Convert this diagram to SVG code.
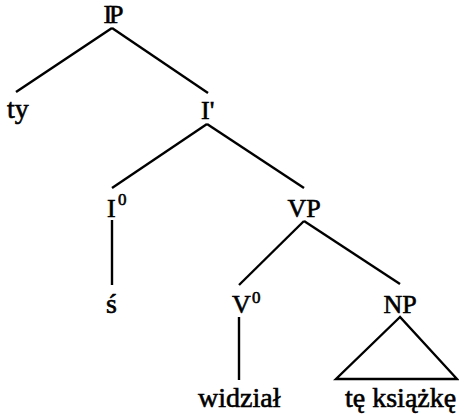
<svg xmlns="http://www.w3.org/2000/svg" width="459" height="417" viewBox="0 0 459 417">
  <style>
    text { font-family: "Liberation Serif", "Times New Roman", serif; fill: #000; stroke: #000; stroke-width: 0.6; }
    .cat { font-size: 26px; }
    .leaf { font-size: 28px; }
    .sup { font-size: 17px; }
    .edge { stroke: #000; stroke-width: 2.4; fill: none; stroke-linecap: butt; }
  </style>
  <rect width="459" height="417" fill="#fff"/>

  <!-- branches of the tree -->
  <g id="connectors">
    <line class="edge" x1="112" y1="28" x2="16" y2="92"/>
    <line class="edge" x1="112" y1="28" x2="208" y2="93"/>
    <line class="edge" x1="207" y1="124" x2="112" y2="188"/>
    <line class="edge" x1="207" y1="124" x2="304" y2="188"/>
    <line class="edge" x1="112" y1="220" x2="112" y2="285"/>
    <line class="edge" x1="304" y1="221" x2="239" y2="285"/>
    <line class="edge" x1="304" y1="221" x2="400" y2="284"/>
    <line class="edge" x1="239" y1="317" x2="239" y2="380"/>
    <polygon class="edge" points="400,317 336,379 457,379" stroke-linejoin="miter"/>
  </g>

  <g id="IP"><text class="cat" x="112" y="23" text-anchor="middle" letter-spacing="-3">IP</text></g>
  <g id="ty"><text class="leaf" x="7" y="118">ty</text></g>
  <g id="Ibar"><text class="cat" x="201" y="119">I'</text></g>
  <g id="I0"><text class="cat" x="107" y="217">I</text><text class="sup" x="118" y="205">0</text></g>
  <g id="s"><text class="leaf" x="106" y="313">ś</text></g>
  <g id="VP"><text class="cat" x="304" y="217" text-anchor="middle">VP</text></g>
  <g id="V0"><text class="cat" x="232" y="313">V</text><text class="sup" x="252" y="303">0</text></g>
  <g id="widzial"><text class="leaf" x="198" y="407">widział</text></g>
  <g id="NP"><text class="cat" x="400" y="313" text-anchor="middle">NP</text></g>
  <g id="te-ksiazke"><text class="leaf" x="345" y="407">tę książkę</text></g>
</svg>
